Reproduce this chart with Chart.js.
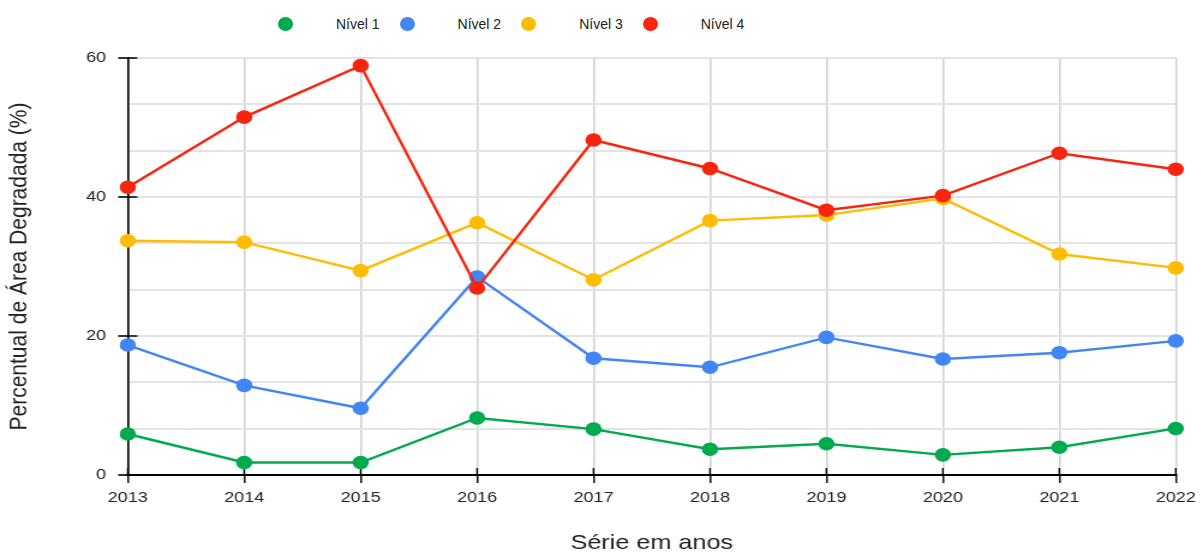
<!DOCTYPE html>
<html lang="pt">
<head>
<meta charset="utf-8">
<title>Percentual de Área Degradada</title>
<script src="https://cdn.jsdelivr.net/npm/chart.js@4.4.1/dist/chart.umd.min.js"></script>
<style>
  html, body { margin: 0; padding: 0; background: #fff; overflow: hidden; }
  body { width: 1203px; height: 554px; position: relative; font-family: "Liberation Sans", Arial, sans-serif; }
  /* o grafico original foi esticado na horizontal */
  #wrap { position: absolute; left: 0; top: 0; width: 1002px; height: 554px; transform: scaleX(1.2006); transform-origin: 0 0; }
  #legenda { position: absolute; left: 278px; top: 16px; display: flex; align-items: center; font-size: 14px; color: #222; }
  #legenda .item { display: flex; align-items: center; margin-right: 20px; }
  #legenda .bola { width: 15px; height: 14px; border-radius: 50%; margin-right: 43px; }
</style>
</head>
<body>
<div id="legenda"></div>
<div id="wrap"><canvas id="grafico"></canvas></div>

<script>
/* Dados */
const anos = ["2013", "2014", "2015", "2016", "2017", "2018", "2019", "2020", "2021", "2022"];
const nivel1 = [5.9, 1.8, 1.8, 8.2, 6.6, 3.7, 4.5, 2.9, 4.0, 6.7];
const nivel2 = [18.7, 12.9, 9.6, 28.5, 16.8, 15.5, 19.8, 16.7, 17.6, 19.3];
const nivel3 = [33.7, 33.5, 29.4, 36.3, 28.1, 36.6, 37.4, 39.8, 31.8, 29.8];
const nivel4 = [41.4, 51.5, 58.9, 26.9, 48.2, 44.1, 38.1, 40.2, 46.3, 44.0];
const rotulosY = [0, 20, 40, 60];

const nomes = ["Nível 1", "Nível 2", "Nível 3", "Nível 4"];
const cores = ["#00aa4e", "#4285f4", "#ffbc00", "#f8250e"];

const ehRotulo = (v) => rotulosY.some(r => Math.abs(r - v) < 1e-6);

/* Legenda em HTML */
const legenda = document.getElementById('legenda');
nomes.forEach((nome, i) => {
    const item = document.createElement('div');
    item.className = 'item';
    const bola = document.createElement('span');
    bola.className = 'bola';
    bola.style.background = cores[i];
    const txt = document.createElement('span');
    txt.textContent = nome;
    item.appendChild(bola);
    item.appendChild(txt);
    legenda.appendChild(item);
});

/* Tracinhos dos eixos para dentro da area */
const ticksInternos = {
    id: 'ticksInternos',
    beforeDatasetsDraw(chart) {
        const { ctx, scales: { x, y } } = chart;
        ctx.save();
        ctx.strokeStyle = '#000';
        ctx.lineWidth = 1.4;
        ctx.beginPath();
        x.ticks.forEach((t, i) => {
            const px = x.getPixelForTick(i);
            ctx.moveTo(px, x.top);
            ctx.lineTo(px, x.top - 7);
        });
        rotulosY.forEach(v => {
            const py = y.getPixelForValue(v);
            ctx.moveTo(y.right, py);
            ctx.lineTo(y.right + 8, py);
        });
        ctx.stroke();
        ctx.restore();
    }
};

Chart.defaults.font.family = '"Liberation Sans", Arial, sans-serif';
Chart.defaults.color = '#222';

const series = [nivel1, nivel2, nivel3, nivel4];

new Chart(document.getElementById('grafico'), {
    type: 'line',
    data: {
        labels: anos,
        datasets: series.map((dados, i) => ({
            label: nomes[i],
            data: dados,
            borderColor: cores[i],
            backgroundColor: cores[i],
            pointBackgroundColor: cores[i],
            pointBorderWidth: 0,
            pointRadius: 6.8,
            borderWidth: 2.4,
            tension: 0,
            order: 4 - i
        }))
    },
    options: {
        responsive: true,
        maintainAspectRatio: false,
        animation: false,
        layout: { padding: { top: 58, right: 18, bottom: 0, left: 0 } },
        plugins: {
            legend: { display: false },
            tooltip: { enabled: false }
        },
        scales: {
            x: {
                afterFit(scale) { scale.height = 79; },
                border: { color: '#000', width: 2 },
                grid: { color: '#d2d2d2', lineWidth: 1.6, tickColor: '#000', tickLength: 8, tickWidth: 1.4 },
                ticks: { font: { size: 15 }, padding: 6, maxRotation: 0, autoSkip: false },
                title: {
                    display: true,
                    text: 'Série em anos',
                    font: { size: 21, lineHeight: 1 },
                    padding: { top: 0, bottom: 0 }
                }
            },
            y: {
                min: 0,
                max: 60,
                afterFit(scale) { scale.width = 106.4; },
                afterBuildTicks(scale) {
                    // linhas de grade a cada 20/3
                    const passo = 20 / 3;
                    scale.ticks = [];
                    for (let k = 0; k <= 9; k++) scale.ticks.push({ value: k * passo });
                },
                border: { color: '#000', width: 1.6 },
                grid: {
                    color: '#e3e3e3',
                    lineWidth: 2,
                    tickLength: 8,
                    tickWidth: 1.6,
                    tickColor: (c) => (c.tick && ehRotulo(c.tick.value)) ? '#000' : 'rgba(0,0,0,0)'
                },
                ticks: {
                    font: { size: 15 },
                    padding: 10,
                    callback: (v) => ehRotulo(v) ? String(Math.round(v)) : ''
                },
                title: {
                    display: true,
                    text: 'Percentual de Área Degradada (%)',
                    font: { size: 21, lineHeight: 1.2 },
                    padding: { top: 4, bottom: 0 }
                }
            }
        }
    },
    plugins: [ticksInternos]
});
</script>
</body>
</html>
